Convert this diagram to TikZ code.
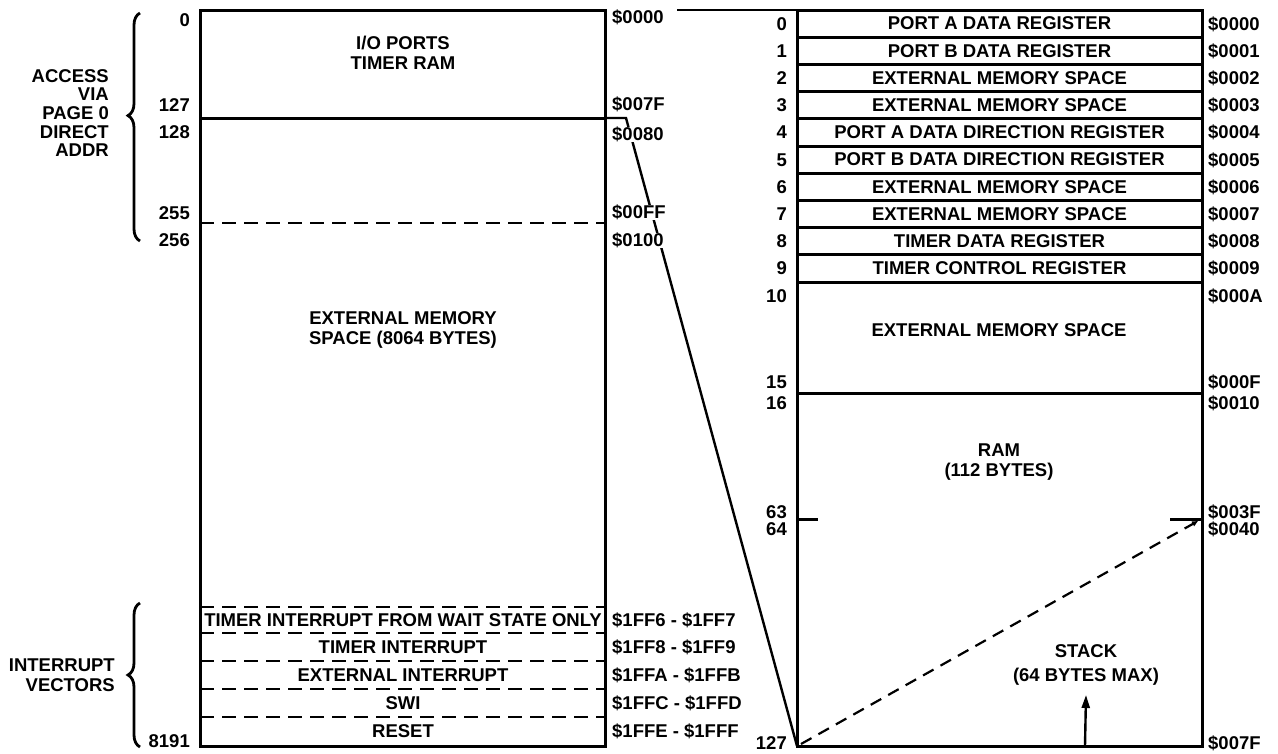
\documentclass[tikz,border=0pt]{standalone}
\usepackage{fontspec}
\setmainfont{Liberation Sans}
\usepackage{tikz}
\usetikzlibrary{arrows.meta,decorations.pathreplacing}
\newcommand{\mapfont}{\fontsize{18.5}{20.5}\selectfont\bfseries}

\begin{document}
\begin{tikzpicture}[x=1pt, y=-1pt,
  every node/.style={font=\mapfont},
  mapbox/.style={draw, line width=3pt, inner sep=0pt, outer sep=0pt, anchor=north west},
  reg/.style={mapbox, minimum width=405pt, minimum height=27.2pt},
  sep/.style={line width=3pt},
  dsep/.style={line width=2.6pt, dash pattern=on 14pt off 8pt},
  num/.style={anchor=east, inner sep=0pt, text height=13pt, text depth=0pt},
  addr/.style={anchor=west, inner sep=1pt, fill=white, text height=13pt, text depth=0pt},
  note/.style={align=center, inner sep=0pt},
  link/.style={line width=2.4pt},
  brc/.style={line width=2.8pt, decorate}
]
\useasboundingbox (0,0) rectangle (1278,753);

% full memory map (left)
\node[mapbox, minimum width=405pt, minimum height=736pt] (lmap) at (200,10) {};
\draw[sep]  (lmap.west |- 0,118) -- (lmap.east |- 0,118);
\draw[dsep] (lmap.west |- 0,223) -- (lmap.east |- 0,223);
\foreach \y in {607,633,661,689,717}
  \draw[dsep] (lmap.west |- 0,\y) -- (lmap.east |- 0,\y);

\node[note] (iolbl)  at (403,53)  {I/O PORTS\\TIMER RAM};
\node[note] (extmem) at (403,330) {EXTERNAL MEMORY\\SPACE (8064 BYTES)};

\foreach \y/\txt/\ad in {620/TIMER INTERRUPT FROM WAIT STATE ONLY/\$1FF6 - \$1FF7,
                         647/TIMER INTERRUPT/\$1FF8 - \$1FF9,
                         675/EXTERNAL INTERRUPT/\$1FFA - \$1FFB,
                         703/SWI/\$1FFC - \$1FFD,
                         731/RESET/\$1FFE - \$1FFF} {
  \node[note] at (403,\y) {\txt};
  \node[addr] at (611,\y) {\ad};
}

% page 0 map (right)
\foreach \name [count=\i from 0] in {PORT A DATA REGISTER, PORT B DATA REGISTER,
    EXTERNAL MEMORY SPACE, EXTERNAL MEMORY SPACE, PORT A DATA DIRECTION REGISTER,
    PORT B DATA DIRECTION REGISTER, EXTERNAL MEMORY SPACE, EXTERNAL MEMORY SPACE,
    TIMER DATA REGISTER, TIMER CONTROL REGISTER} {
  \node[reg] (r\i) at (797,{10+27.2*\i}) {\name};
  \node[num]  at (787,{23.6+27.2*\i}) {\i};
  \node[addr] at (1207,{23.6+27.2*\i}) {\$000\i};
}
\node[mapbox, minimum width=405pt, minimum height=111pt] (rext) at (r9.south west) {};
\node[mapbox, minimum width=405pt, minimum height=353pt] (rram) at (rext.south west) {};
\draw[sep] (rram.west |- 0,519) -- ++(21,0);
\draw[sep] (rram.east |- 0,519) -- ++(-32,0);

\node[note] (extlbl)   at (999,330) {EXTERNAL MEMORY SPACE};
\node[note] (ramlbl)   at (999,462) {RAM\\(112 BYTES)};
\node[note] (stacklbl) at (1086,665) {STACK\\[3pt](64 BYTES MAX)};

% stack growth
\coordinate (stackbot) at (801,744);
\coordinate (stacktop) at (1198,521);
\draw[dsep, line width=2.2pt, dash pattern=on 12pt off 8pt, -{Triangle[length=6pt,width=5pt]}]
  (stackbot) -- (stacktop);
\coordinate (spbase) at (1085,746);
\draw[link, -{Triangle[length=13pt,width=8pt]}] (spbase) -- (stacklbl.south |- 0,695);

% links between the two maps
\coordinate (topfree) at (677,10);
\draw[link] (topfree) -- (r0.north west);
\coordinate (bend) at (626,118);
\draw[link] (lmap.east |- bend) -- (bend) -- (rram.south west);

% left addresses
\node[num] at (190,20)  {0};
\node[num] at (190,105) {127};
\node[num] at (190,132) {128};
\node[num] at (190,213) {255};
\node[num] at (190,240) {256};
\node[num] at (190,741) {8191};
\node[addr] at (611,17)  {\$0000};
\node[addr] at (611,104) {\$007F};
\node[addr] at (611,134) {\$0080};
\node[addr] at (611,212) {\$00FF};
\node[addr] at (611,240) {\$0100};

% right addresses
\node[num] at (787,296) {10};
\node[num] at (787,382) {15};
\node[num] at (787,403) {16};
\node[num] at (787,512) {63};
\node[num] at (787,529) {64};
\node[num] at (787,743) {127};
\node[addr] at (1207,296) {\$000A};
\node[addr] at (1207,382) {\$000F};
\node[addr] at (1207,403) {\$0010};
\node[addr] at (1207,512) {\$003F};
\node[addr] at (1207,529) {\$0040};
\node[addr] at (1207,743) {\$007F};

% braces
\draw[brc, decoration={brace, amplitude=12pt, aspect=0.55}] (140,241) -- (140,13);
\node[anchor=east, align=right, inner sep=0pt, font=\fontsize{18.5}{18.7}\selectfont\bfseries]
  (accesslbl) at (109,113) {ACCESS\\VIA\\PAGE 0\\DIRECT\\ADDR};
\draw[brc, decoration={brace, amplitude=12pt, aspect=0.5}] (140,747) -- (140,603);
\node[anchor=east, align=right, inner sep=0pt]
  (veclbl) at (115,675) {INTERRUPT\\VECTORS};
\end{tikzpicture}
\end{document}
